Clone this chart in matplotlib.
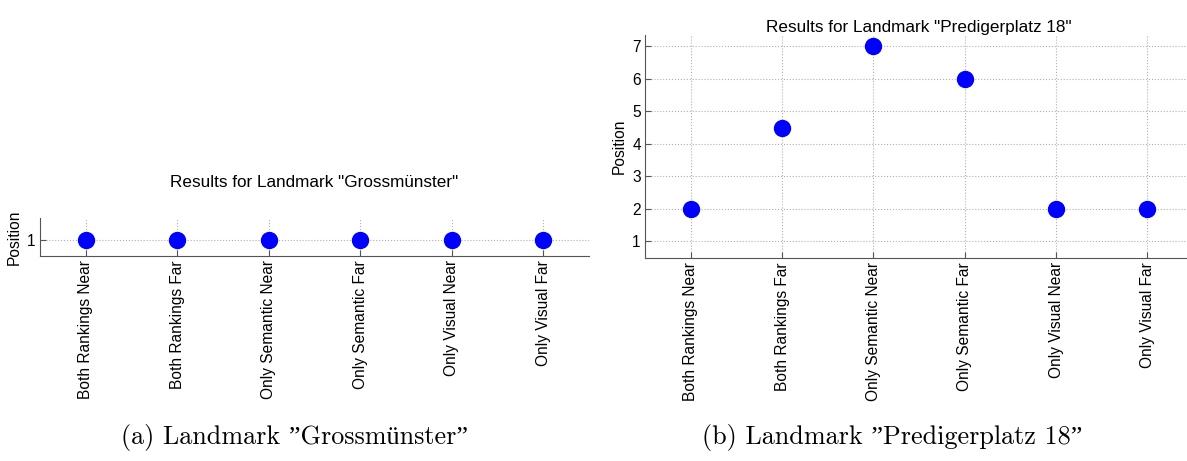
import matplotlib.pyplot as plt

conditions = ['Both Rankings Near', 'Both Rankings Far', 'Only Semantic Near',
              'Only Semantic Far', 'Only Visual Near', 'Only Visual Far']
grossmuenster_pos = [1, 1, 1, 1, 1, 1]
prediger_pos = [2, 4.5, 7, 6, 2, 2]

plt.rcParams['font.family'] = ['Liberation Sans', 'DejaVu Sans']

fig = plt.figure(figsize=(11.87, 4.61), dpi=100)
ax_a = fig.add_axes([0.0337, 0.4447, 0.4625, 0.0824])
ax_b = fig.add_axes([0.5434, 0.4403, 0.4617, 0.4837])


def style_axis(ax, values, title, pad):
    x = list(range(1, len(conditions) + 1))
    ax.plot(x, values, 'o', color='#0000ff', markersize=11.5, linestyle='none',
            zorder=3)
    ax.set_xlim(0.5, 6.5)
    ax.set_xticks(x)
    ax.set_xticklabels(conditions, rotation=90, fontsize=11.2)
    ax.set_ylabel('Position', fontsize=11.2)
    ax.set_title(title, fontsize=12.3, pad=pad)
    ax.grid(True, linestyle=':', color='#b0b0b0', linewidth=0.8)
    for side in ['top', 'right']:
        ax.spines[side].set_visible(False)
    for side in ['left', 'bottom']:
        ax.spines[side].set_color('#555555')
        ax.spines[side].set_linewidth(0.8)
    ax.tick_params(direction='in', length=4, color='#555555', labelsize=11.2,
                   pad=3)


style_axis(ax_a, grossmuenster_pos, 'Results for Landmark "Grossmünster"', 22)
ax_a.set_ylim(0.58, 1.58)
ax_a.set_yticks([1])

style_axis(ax_b, prediger_pos, 'Results for Landmark "Predigerplatz 18"', 1)
ax_b.set_ylim(0.48, 7.35)
ax_b.set_yticks(range(1, 8))

cap_font = ['cmr10', 'Liberation Serif', 'DejaVu Serif']
fig.text(0.248, 0.052, '(a) Landmark \u201dGrossmünster\u201d',
         ha='center', va='center', fontsize=18.8, family=cap_font)
fig.text(0.752, 0.052, '(b) Landmark \u201dPredigerplatz 18\u201d', ha='center',
         va='center', fontsize=18.8, family=cap_font)

fig.savefig('out.png', dpi=100)
